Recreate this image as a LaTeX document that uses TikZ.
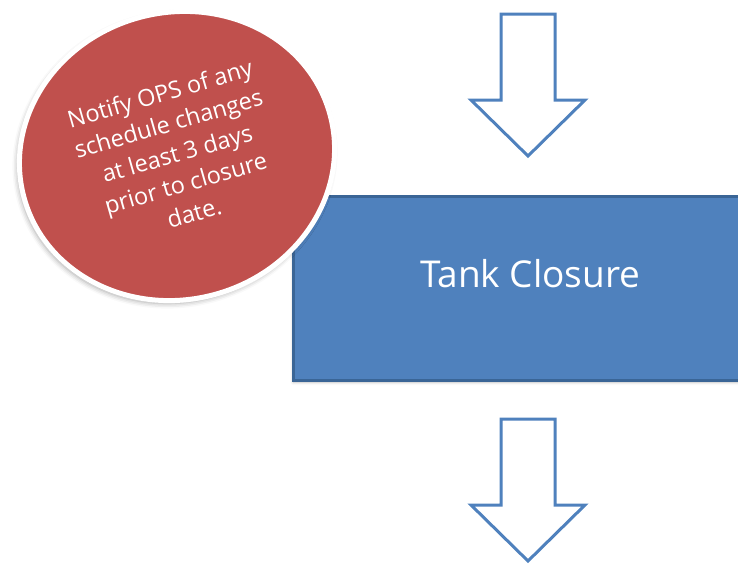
\documentclass[tikz,border=0pt]{standalone}
\usepackage{fontspec}
\setmainfont{Open Sans}
\usetikzlibrary{shapes.geometric,shadows.blur}
\definecolor{boxblue}{HTML}{4F81BD}
\definecolor{boxedge}{HTML}{3A6596}
\definecolor{notered}{HTML}{C0504D}
\tikzset{
  arrowline/.style={draw=boxblue, line width=3pt, fill=white, line join=miter},
  downarrow/.pic={
    \path[arrowline] (-27,0) -- (27,0) -- (27,86) -- (57,86) -- (0,142)
      -- (-57,86) -- (-27,86) -- cycle;
  },
  closurebox/.style={rectangle, minimum width=474pt, minimum height=184pt,
    fill=boxblue, draw=boxedge, line width=2.5pt, inner sep=0pt,
    blur shadow={shadow xshift=0pt, shadow yshift=-2pt, shadow blur radius=3pt, shadow opacity=25}},
  boxlabel/.style={text=white, font=\fontsize{37}{44}\selectfont, inner sep=0pt},
  notecircle/.style={ellipse, minimum width=317pt, minimum height=287pt,
    rotate=15, fill=notered, draw=white, line width=5pt, inner sep=0pt,
    blur shadow={shadow xshift=-2pt, shadow yshift=-3pt, shadow blur radius=5pt, shadow opacity=35}},
  notetext/.style={text=white, align=center, rotate=16, inner sep=0pt,
    font=\fontsize{23.5}{31}\selectfont},
}
\begin{document}
\begin{tikzpicture}[x=1pt,y=-1pt]
\useasboundingbox (0,0) rectangle (738,563);
% incoming and outgoing flow arrows
\pic at (528,14) {downarrow};
\pic at (528,419) {downarrow};
% process step
\node[closurebox, anchor=north west] (box) at (292,195) {};
\node[boxlabel] (boxtext) at ([yshift=15pt]box.center) {Tank Closure};
% reminder bubble
\node[notecircle] (note) at (177,156) {};
\node[notetext] (notetxt) at (177,153)
  {Notify OPS of any\\schedule changes\\at least 3 days\\prior to closure\\date.};
\end{tikzpicture}
\end{document}
